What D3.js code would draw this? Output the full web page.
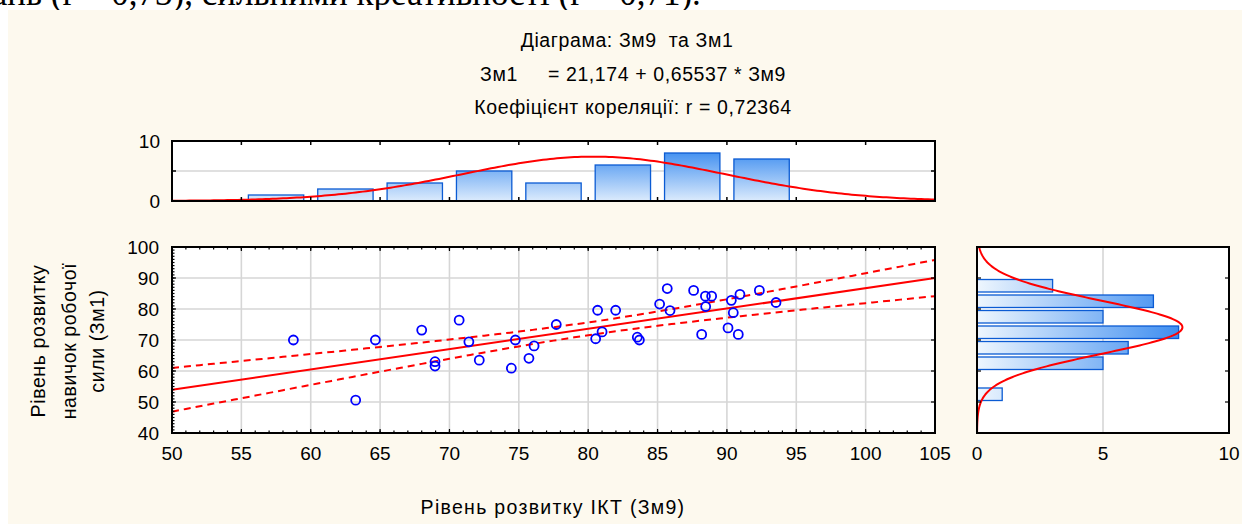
<!DOCTYPE html>
<html><head><meta charset="utf-8">
<script src="https://cdn.jsdelivr.net/npm/d3@7"></script>
<style>
html,body{margin:0;padding:0;background:#fff;}
svg{display:block;font-family:"Liberation Sans",Arial,sans-serif;}
</style></head>
<body>
<svg id="chart" width="1242" height="524"></svg>
<script>
// ---------- data ----------
const zm9 = [58.75,63.24,64.66,68.0,68.96,68.96,70.7,71.4,72.15,74.46,74.75,75.73,76.1,77.7,
  80.54,80.68,81.0,81.98,83.54,83.69,85.15,85.7,85.9,87.6,88.18,88.45,88.47,88.9,
  90.08,90.32,90.46,90.82,90.94,92.34,93.54];
const zm1 = [70,50.6,70,73.2,63.0,61.6,76.4,69.4,63.5,60.9,70,64.1,68.1,75,
  70.4,79.6,72.6,79.6,70.9,70,81.6,86.6,79.5,86.0,71.8,84.15,80.8,84.15,
  73.9,82.8,78.8,71.8,84.7,86.0,82.1];
const xBinStarts = [55,60,65,70,75,80,85,90];
const xBinCounts = [1,2,3,5,3,6,8,7];
const yBinStarts = [50,55,60,65,70,75,80,85];
const yBinCounts = [1,0,5,6,8,5,7,3];
const binWidth = 5;
const intercept = 21.174, slope = 0.65537, tCrit = 2.0345;
const xTicks = [50,55,60,65,70,75,80,85,90,95,100,105];
const yTicks = [40,50,60,70,80,90,100];
const topTicks = [0,10];
const rightTicks = [0,5,10];
const titleLines = ["Діаграма: Зм9  та Зм1","Зм1     = 21,174 + 0,65537 * Зм9","Коефіцієнт кореляції: r = 0,72364"];
const xTitle = "Рівень розвитку ІКТ (Зм9)";
const yTitleLines = ["Рівень розвитку","навичок робочої","сили (Зм1)"];
const docText = "зань (r = 0,73), сильними креативності (r = 0,71).";

// ---------- setup ----------
const svg = d3.select("#chart");
const RED = "#ff0000", BLUE = "#0000ff", GRID = "#d6d6d6";
const FS_T = 19.5, FS_TICK = 19;
svg.append("text").attr("x",-22).attr("y",5).attr("font-family","Liberation Serif, serif")
  .attr("font-size",35).attr("fill","#000").text(docText);
svg.append("rect").attr("x",8).attr("y",10).attr("width",1242-8).attr("height",524-10).attr("fill","#fdf9ee");

const x = d3.scaleLinear().domain([50,105]).range([172,935]);
const y = d3.scaleLinear().domain([40,100]).range([433,247]);
const yTop = d3.scaleLinear().domain([0,10]).range([201,141]);
const xR = d3.scaleLinear().domain([0,10]).range([977,1229]);

const defs = svg.append("defs");
const gV = defs.append("linearGradient").attr("id","gv").attr("gradientUnits","userSpaceOnUse")
  .attr("x1",0).attr("x2",0).attr("y1",yTop(8.5)).attr("y2",yTop(0));
gV.append("stop").attr("offset",0).attr("stop-color","#3d8df0");
gV.append("stop").attr("offset",1).attr("stop-color","#dcebfc");
const gH = defs.append("linearGradient").attr("id","gh").attr("gradientUnits","userSpaceOnUse")
  .attr("y1",0).attr("y2",0).attr("x1",xR(0)).attr("x2",xR(8.2));
gH.append("stop").attr("offset",0).attr("stop-color","#eef6fe");
gH.append("stop").attr("offset",1).attr("stop-color","#3a8bf0");

// ---------- titles ----------
const tl = svg.append("g").attr("font-size",FS_T).attr("text-anchor","middle").attr("fill","#000").attr("letter-spacing",0.6);
titleLines.forEach((t,i)=>tl.append("text").attr("x",[627,633,633][i]).attr("y",[47,81,114][i]).style("white-space","pre").text(t));

// ---------- stats ----------
const mx = d3.mean(zm9), sx = d3.deviation(zm9);
const my = d3.mean(zm1), sy = d3.deviation(zm1);
const n = zm9.length;
const pdf = (v,m,s)=>Math.exp(-0.5*((v-m)/s)**2)/(s*Math.sqrt(2*Math.PI));
const sxx = d3.sum(zm9,v=>(v-mx)**2);
const sres = Math.sqrt(d3.sum(zm9,(v,i)=>(zm1[i]-(intercept+slope*v))**2)/(n-2));

// ---------- top histogram ----------
const topG = svg.append("g");
topG.append("rect").attr("x",172).attr("y",141).attr("width",935-172).attr("height",60).attr("fill","#fff");
topG.append("line").attr("x1",172).attr("x2",935).attr("y1",yTop(5)).attr("y2",yTop(5)).attr("stroke",GRID).attr("stroke-width",1.6);
topG.selectAll("rect.bar").data(xBinStarts).join("rect").attr("class","bar")
  .attr("x",d=>x(d)+7).attr("width",d=>x(d+binWidth)-x(d)-14)
  .attr("y",(d,i)=>yTop(xBinCounts[i])).attr("height",(d,i)=>yTop(0)-yTop(xBinCounts[i]))
  .attr("fill","url(#gv)").attr("stroke","#0b5bd3").attr("stroke-width",1.3);
const topCurve = d3.range(50,105.01,0.25).map(v=>[v,n*binWidth*pdf(v,mx,sx)]);
topG.append("path").attr("d",d3.line().x(d=>x(d[0])).y(d=>yTop(d[1]))(topCurve))
  .attr("fill","none").attr("stroke",RED).attr("stroke-width",2);
xTicks.slice(1,-1).forEach(t=>{
  topG.append("line").attr("x1",x(t)).attr("x2",x(t)).attr("y1",141).attr("y2",145).attr("stroke","#000").attr("stroke-width",1.5);
  topG.append("line").attr("x1",x(t)).attr("x2",x(t)).attr("y1",201).attr("y2",197).attr("stroke","#000").attr("stroke-width",1.5);
});
[[172,176],[935,931]].forEach(([a,b])=>topG.append("line").attr("x1",a).attr("x2",b).attr("y1",yTop(5)).attr("y2",yTop(5)).attr("stroke","#000").attr("stroke-width",1.5));
topG.append("rect").attr("x",172).attr("y",141).attr("width",935-172).attr("height",60).attr("fill","none").attr("stroke","#000").attr("stroke-width",2);
topG.selectAll("text").data(topTicks).join("text").attr("x",160).attr("y",d=>yTop(d)+7)
  .attr("text-anchor","end").attr("font-size",FS_TICK).text(d=>d);

// ---------- scatter ----------
const sc = svg.append("g");
sc.append("rect").attr("x",172).attr("y",247).attr("width",935-172).attr("height",433-247).attr("fill","#fff");
xTicks.slice(1,-1).forEach(t=>sc.append("line").attr("x1",x(t)).attr("x2",x(t)).attr("y1",247).attr("y2",433).attr("stroke",GRID).attr("stroke-width",1.6));
yTicks.slice(1,-1).forEach(t=>sc.append("line").attr("y1",y(t)).attr("y2",y(t)).attr("x1",172).attr("x2",935).attr("stroke",GRID).attr("stroke-width",1.6));
// confidence bands
const xs = d3.range(50,105.01,0.5);
const band = sgn => xs.map(v=>[v,intercept+slope*v+sgn*tCrit*sres*Math.sqrt(1/n+(v-mx)**2/sxx)]);
const ln = d3.line().x(d=>x(d[0])).y(d=>y(d[1]));
[1,-1].forEach(s=>sc.append("path").attr("d",ln(band(s))).attr("fill","none").attr("stroke",RED)
  .attr("stroke-width",2).attr("stroke-dasharray","7,5"));
sc.append("path").attr("d",ln([[50,intercept+slope*50],[105,intercept+slope*105]]))
  .attr("fill","none").attr("stroke",RED).attr("stroke-width",2);
sc.selectAll("circle").data(zm9).join("circle").attr("cx",d=>x(d)).attr("cy",(d,i)=>y(zm1[i]))
  .attr("r",4.5).attr("fill","none").attr("stroke",BLUE).attr("stroke-width",1.8);
// ticks
const tk = (x1,y1,x2,y2)=>sc.append("line").attr("x1",x1).attr("y1",y1).attr("x2",x2).attr("y2",y2).attr("stroke","#000").attr("stroke-width",1.2);
d3.range(51,105,1).forEach(v=>{ tk(x(v),247,x(v),249.5); tk(x(v),433,x(v),430.5); });
d3.range(41,100,1).forEach(v=>{ tk(172,y(v),174.5,y(v)); });
xTicks.forEach(v=>{ tk(x(v),247,x(v),251); tk(x(v),433,x(v),429); });
yTicks.forEach(v=>{ tk(172,y(v),176,y(v)); tk(935,y(v),931,y(v)); });
sc.append("rect").attr("x",172).attr("y",247).attr("width",935-172).attr("height",433-247).attr("fill","none").attr("stroke","#000").attr("stroke-width",2);
sc.selectAll("text.xl").data(xTicks).join("text").attr("class","xl").attr("x",d=>x(d)).attr("y",460)
  .attr("text-anchor","middle").attr("font-size",FS_TICK).text(d=>d);
sc.selectAll("text.yl").data(yTicks).join("text").attr("class","yl").attr("x",159).attr("y",d=>y(d)+7)
  .attr("text-anchor","end").attr("font-size",FS_TICK).text(d=>d);
svg.append("text").attr("x",553).attr("y",514).attr("text-anchor","middle").attr("font-size",FS_T)
  .attr("letter-spacing",1.3).text(xTitle);
yTitleLines.forEach((t,i)=>svg.append("text").attr("transform",`translate(${[45,76,104][i]},341) rotate(-90)`)
  .attr("text-anchor","middle").attr("font-size",FS_T).attr("letter-spacing",0.6).text(t));

// ---------- right histogram ----------
const rh = svg.append("g");
rh.append("rect").attr("x",977).attr("y",247).attr("width",1229-977).attr("height",433-247).attr("fill","#fff");
rh.append("line").attr("x1",xR(5)).attr("x2",xR(5)).attr("y1",247).attr("y2",433).attr("stroke",GRID).attr("stroke-width",1.6);
rh.selectAll("rect.bar").data(yBinStarts.filter((d,i)=>yBinCounts[i]>0)).join("rect").attr("class","bar")
  .attr("x",xR(0)).attr("y",d=>y(d+binWidth)+1.5).attr("height",d=>y(d)-y(d+binWidth)-3)
  .attr("width",d=>xR(yBinCounts[yBinStarts.indexOf(d)])-xR(0))
  .attr("fill","url(#gh)").attr("stroke","#0b5bd3").attr("stroke-width",1.3);
const rCurve = d3.range(40,100.01,0.25).map(v=>[v,n*binWidth*pdf(v,my,sy)]);
rh.append("path").attr("d",d3.line().x(d=>xR(d[1])).y(d=>y(d[0]))(rCurve))
  .attr("fill","none").attr("stroke",RED).attr("stroke-width",2);
yTicks.slice(1,-1).forEach(v=>{
  rh.append("line").attr("x1",977).attr("x2",981).attr("y1",y(v)).attr("y2",y(v)).attr("stroke","#000").attr("stroke-width",1.2);
  rh.append("line").attr("x1",1229).attr("x2",1225).attr("y1",y(v)).attr("y2",y(v)).attr("stroke","#000").attr("stroke-width",1.2);
});
rh.append("rect").attr("x",977).attr("y",247).attr("width",1229-977).attr("height",433-247).attr("fill","none").attr("stroke","#000").attr("stroke-width",2);
rh.selectAll("text").data(rightTicks).join("text").attr("x",d=>xR(d)).attr("y",460)
  .attr("text-anchor","middle").attr("font-size",FS_TICK).text(d=>d);
</script>
</body></html>
